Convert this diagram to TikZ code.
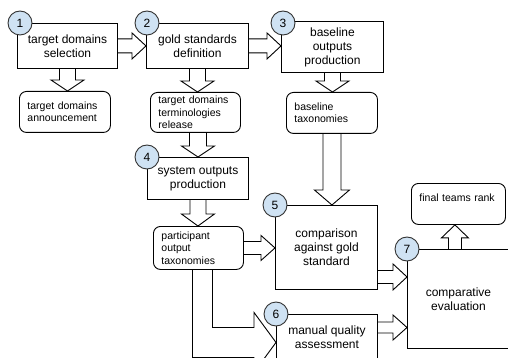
\documentclass[tikz,border=0pt]{standalone}
\usepackage{fontspec}
\setmainfont{Liberation Sans}
\usetikzlibrary{calc, positioning}
\definecolor{numblue}{HTML}{CFE2F3}

\tikzset{
  stage/.style={draw, fill=white, anchor=north west, align=center, inner sep=2pt, line width=0.9pt, font=\fontsize{12}{14}\selectfont},
  product/.style={draw, fill=white, anchor=north west, rounded corners=7pt, align=left, inner xsep=8pt, inner ysep=2pt, line width=0.9pt, font=\fontsize{10.5}{12.5}\selectfont},
  stepnum/.style={circle, draw=black!80, fill=numblue, minimum size=24pt, inner sep=0pt, line width=0.9pt, font=\fontsize{12}{12}\selectfont},
  hollowarrow/.style={draw, line join=miter, line width=0.9pt}
}

% hollow block arrow: from, to, half shaft, half head, head length
\newcommand{\blockarrow}[5]{%
  \path let \p1=(#1), \p2=(#2) in
    \pgfextra{%
      \pgfmathsetmacro\baang{atan2(\y2-\y1,\x2-\x1)}%
      \pgfmathsetmacro\balen{veclen(\x2-\x1,\y2-\y1)}%
      \xdef\baang{\baang}\xdef\balen{\balen}%
      \xdef\bax{\x1}\xdef\bay{\y1}};
  \begin{scope}[shift={(\bax,\bay)}, rotate=\baang]
    \draw[hollowarrow] (0,#3) -- (\balen-#5,#3) -- (\balen-#5,#4) -- (\balen,0)
      -- (\balen-#5,-#4) -- (\balen-#5,-#3) -- (0,-#3);
  \end{scope}}

\begin{document}
\begin{tikzpicture}[x=1pt, y=-1pt]
    \useasboundingbox (0,0) rectangle (508,358);
    \clip (0,0) rectangle (508,358);

    % stages
    \node[stage, minimum width=100pt, minimum height=45pt] (select) at (17,23) {target domains\\selection};
    \node[stage, minimum width=102pt, minimum height=45pt] (gold) at (146,23) {gold standards\\definition};
    \node[stage, minimum width=102pt, minimum height=51pt] (baseline) at (281,21) {baseline\\outputs\\production};
    \node[stage, minimum width=101pt, minimum height=42pt] (sysout) at (147,157) {system outputs\\production};
    \node[stage, minimum width=102pt, minimum height=84pt] (compare) at (275,205) {comparison\\against gold\\standard};
    \node[stage, minimum width=101pt, minimum height=46pt] (manual) at (276,314) {manual quality\\assessment};
    \node[stage, minimum width=102pt, minimum height=99pt] (evaluate) at (407,249) {comparative\\evaluation};

    % products
    \node[product, text width=75pt, minimum height=41pt] (announce) at (19,91) {target domains\\announcement};
    \node[product, text width=74pt, minimum height=40pt] (release) at (150,92) {target domains\\terminologies\\release};
    \node[product, text width=75pt, minimum height=41pt] (basetax) at (286,92) {baseline\\taxonomies};
    \node[product, text width=74pt, minimum height=43pt] (parttax) at (153,226) {participant\\output\\taxonomies};
    \node[product, text width=78pt, minimum height=41pt, text depth=12pt] (rank) at (411,183) {final teams rank};

    \coordinate (cmpout) at ($(compare.east)+(0,29.5)$);
    \coordinate (manout) at ($(manual.north east)+(0,13.5)$);
    \coordinate (rankin) at ($(rank.south)+(-3.5,0)$);
    \coordinate (bendtip) at ($(manual.west)+(0,5)$);

    \blockarrow{select.east}{gold.west}{7}{13}{14}
    \blockarrow{gold.east}{baseline.west |- gold.east}{7}{13}{14}
    \blockarrow{select.south}{select.south |- announce.north}{8}{16.5}{11}
    \blockarrow{gold.south}{gold.south |- release.north}{8}{16.5}{11}
    \blockarrow{sysout.north |- release.south}{sysout.north}{8.5}{16.5}{11}
    \blockarrow{baseline.south}{baseline.south |- basetax.north}{8}{16.5}{11}
    \blockarrow{basetax.south}{basetax.south |- compare.north}{9}{17.5}{15}
    \blockarrow{sysout.south}{sysout.south |- parttax.north}{8}{16.5}{12}
    \blockarrow{parttax.east}{compare.west |- parttax.east}{6.5}{12.5}{14}
    \blockarrow{cmpout}{evaluate.west |- cmpout}{6.5}{13}{14}
    \blockarrow{manout}{evaluate.west |- manout}{5.5}{12.5}{14}
    \blockarrow{evaluate.north -| rankin}{rankin}{6.5}{13.5}{13}

    % bent arrow into manual assessment
    \draw[hollowarrow] ($(parttax.south)+(-6,0)$) |- ($(bendtip)+(-22,15)$)
        -- ($(bendtip)+(-22,30)$) -- (bendtip) -- ($(bendtip)+(-22,-30)$)
        -- ($(bendtip)+(-22,-15)$) -| ($(parttax.south)+(14,0)$);

    % step numbers
    \node[stepnum] (n1) at ($(select.north west)+(3,0)$) {1};
    \node[stepnum] (n2) at ($(gold.north west)+(1,0)$) {2};
    \node[stepnum] (n3) at ($(baseline.north west)+(2,2)$) {3};
    \node[stepnum] (n4) at (sysout.north west) {4};
    \node[stepnum] (n5) at (compare.north west) {5};
    \node[stepnum] (n6) at (manual.north west) {6};
    \node[stepnum] (n7) at (evaluate.north west) {7};
\end{tikzpicture}
\end{document}
